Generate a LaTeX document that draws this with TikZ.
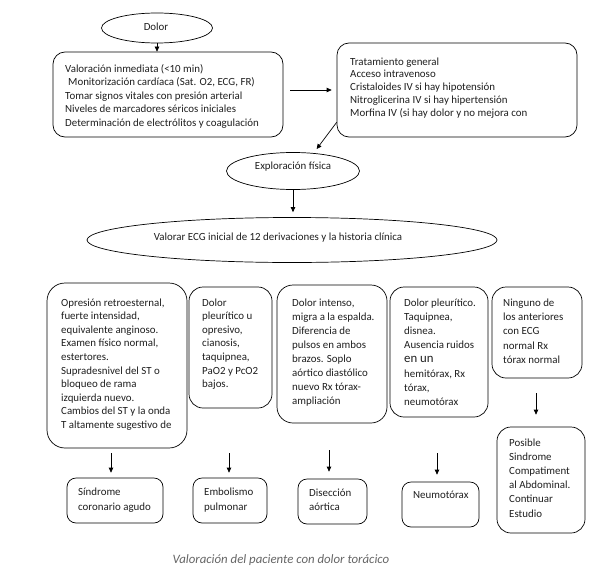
\documentclass[tikz,border=0pt]{standalone}
\usepackage{fontspec}
\setmainfont{Carlito}
\usetikzlibrary{shapes.geometric,arrows.meta,calc}
\begin{document}
\begin{tikzpicture}[x=1pt,y=-1pt,
  box/.style={draw, line width=0.7pt, inner sep=0pt},
  oval/.style={draw, ellipse, line width=0.7pt, inner sep=0pt},
  txt/.style={inner sep=0pt, align=left, anchor=base west, text=black!88},
  ctxt/.style={inner sep=0pt, align=center, text=black!88},
  arr/.style={-{Triangle[length=5pt,width=4.5pt]}, line width=0.7pt},
  fa/.style={font=\fontsize{10.9}{13.6}\selectfont}]
\useasboundingbox (0,0) rectangle (596,578);
\fill[white] (0,0) rectangle (596,578);
% ellipses
\node[oval, minimum width=111, minimum height=30] (dolor) at (157,28) {};
\node[ctxt, fa] (tdolor) at (156,27) {Dolor};
\node[oval, minimum width=133, minimum height=37] (expl) at (293,171) {};
\node[ctxt, fa] (texpl) at (293,167) {Exploración física};
\node[oval, minimum width=410, minimum height=45] (big) at (292,240) {};
\node[ctxt, fa] (tbig) at (278,238) {Valorar ECG inicial de 12 derivaciones y la historia clínica};
% top boxes
\node[box, rounded corners=12pt, minimum width=230, minimum height=85] (box1) at (168,94.5) {};
\node[txt, font=\fontsize{10.9}{13.5}\selectfont] (t1) at (65,126) {Valoración inmediata (<10 min)\\\hspace*{3pt}Monitorización cardíaca (Sat. O2, ECG, FR)\\Tomar signos vitales con presión arterial\\Niveles de marcadores séricos iniciales\\Determinación de electrólitos y coagulación};
\node[box, rounded corners=12pt, minimum width=240, minimum height=94] (box2) at (457,90) {};
\node[txt, font=\fontsize{10.9}{12.8}\selectfont] (t2) at (350,116.2) {Tratamiento general\\Acceso intravenoso\\Cristaloides IV si hay hipotensión\\Nitroglicerina IV si hay hipertensión\\Morfina IV (si hay dolor y no mejora con};
% middle boxes
\node[box, rounded corners=18pt, minimum width=140, minimum height=165] (ba) at (117,365.5) {};
\node[txt, fa] (ta) at (61,428.4) {Opresión retroesternal,\\fuerte intensidad,\\equivalente anginoso.\\Examen físico normal,\\estertores.\\Supradesnivel del ST o\\bloqueo de rama\\izquierda nuevo.\\Cambios del ST y la onda\\T altamente sugestivo de};
\node[box, rounded corners=14pt, minimum width=83, minimum height=121] (bb) at (230.5,347.5) {};
\node[txt, fa] (tb) at (202,387.6) {Dolor\\pleurítico u\\opresivo,\\cianosis,\\taquipnea,\\PaO2 y PcO2\\bajos.};
\node[box, rounded corners=16pt, minimum width=110, minimum height=138] (bc) at (332,354) {};
\node[txt, font=\fontsize{10.9}{14.1}\selectfont] (tc) at (292,404.7) {Dolor intenso,\\migra a la espalda.\\Diferencia de\\pulsos en ambos\\brazos. Soplo\\aórtico diastólico\\nuevo Rx tórax-\\ampliación};
\node[box, rounded corners=14pt, minimum width=98, minimum height=130] (bd) at (439,352) {};
\node[txt, font=\fontsize{10.9}{14.2}\selectfont] (td) at (404,405.4) {Dolor pleurítico.\\Taquipnea,\\disnea.\\Ausencia ruidos\\{\fontsize{12.8}{14.2}\selectfont en un}\\hemitórax, Rx\\tórax,\\neumotórax};
\node[box, rounded corners=14pt, minimum width=90, minimum height=91] (be) at (537,332.5) {};
\node[txt, font=\fontsize{10.9}{14.4}\selectfont] (te) at (503,363.6) {Ninguno de\\los anteriores\\con ECG\\normal Rx\\tórax normal};
% bottom boxes
\node[box, rounded corners=9pt, minimum width=96, minimum height=45] (s1) at (115,500.5) {};
\node[txt, font=\fontsize{10.9}{15}\selectfont] (ts1) at (78,510) {Síndrome\\coronario agudo};
\node[box, rounded corners=9pt, minimum width=74, minimum height=45] (s2) at (230,500.5) {};
\node[txt, font=\fontsize{10.9}{15}\selectfont] (ts2) at (204,510) {Embolismo\\pulmonar};
\node[box, rounded corners=9pt, minimum width=69, minimum height=45] (s3) at (332.5,501.5) {};
\node[txt, font=\fontsize{10.9}{14}\selectfont] (ts3) at (309,510) {Disección\\aórtica};
\node[box, rounded corners=9pt, minimum width=77, minimum height=45] (s4) at (440.5,504.5) {};
\node[txt, fa] (ts4) at (413,498) {Neumotórax};
\node[box, rounded corners=14pt, minimum width=88, minimum height=106] (s5) at (541,480) {};
\node[txt, font=\fontsize{10.9}{14.2}\selectfont] (ts5) at (509,517) {Posible\\Sindrome\\Compatiment\\al Abdominal.\\Continuar\\Estudio};
% caption
\node[ctxt, text=black!60, font=\itshape\fontsize{12.8}{14}\selectfont] (cap) at (281,560) {Valoración del paciente con dolor torácico};
% connectors
\draw[arr] (dolor.south) -- (dolor.south |- box1.north);
\draw[arr, shorten <=7pt, shorten >=5pt] (box1.east |- box2.west) -- (box2.west);
\draw[arr, shorten >=5pt] ([yshift=15pt]box2.south west) -- (expl.41);
\draw[arr, shorten >=5pt] (expl.south) -- (expl.south |- big.north);
\draw[arr, shorten <=5pt, shorten >=5pt] ([xshift=-4pt]s1.north |- ba.south) -- ([xshift=-4pt]s1.north);
\draw[arr, shorten <=45pt, shorten >=5pt] ([xshift=-1pt]s2.north |- bb.south) -- ([xshift=-1pt]s2.north);
\draw[arr, shorten <=27pt, shorten >=7pt] ([xshift=-3.5pt]s3.north |- bc.south) -- ([xshift=-3.5pt]s3.north);
\draw[arr, shorten <=36pt, shorten >=7pt] ([xshift=-3.5pt]s4.north |- bd.south) -- ([xshift=-3.5pt]s4.north);
\draw[arr, shorten <=15pt, shorten >=12pt] ([xshift=-5pt]s5.north |- be.south) -- ([xshift=-5pt]s5.north);
\end{tikzpicture}
\end{document}
